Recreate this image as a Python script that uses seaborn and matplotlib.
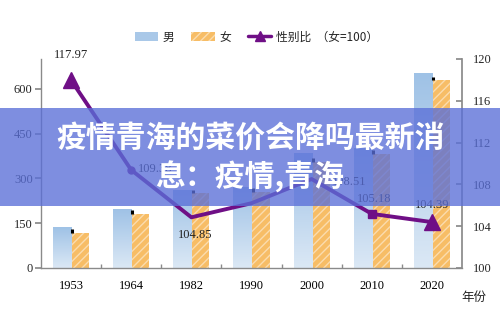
import numpy as np
import pandas as pd
import matplotlib
matplotlib.use("Agg")
import matplotlib.pyplot as plt
import seaborn as sns
from matplotlib.patches import Patch, Rectangle
from matplotlib.lines import Line2D
from matplotlib.colors import LinearSegmentedColormap

years = ['1953', '1964', '1982', '1990', '2000', '2010', '2020']
male = [137, 197, 262, 272, 385, 402, 653]
female = [117, 181, 250, 256, 355, 382, 628]
ratio = [117.97, 109.38, 104.85, 106.20, 108.51, 105.18, 104.39]
ratio_labels = ['117.97', '109.38', '104.85', '', '108.51', '105.18', '104.39']
left_ticks = [0, 150, 300, 450, 600]
right_ticks = [100, 104, 108, 112, 116, 120]
legend_labels = ['男', '女', '性别比  （女=100）']
title_lines = ['疫情青海的菜价会降吗最新消', '息：疫情,青海']

sns.set_theme(style="white")
plt.rcParams['font.family'] = ['Noto Sans CJK SC', 'DejaVu Sans']
plt.rcParams['hatch.linewidth'] = 1.0

serif = ['Liberation Serif', 'DejaVu Serif']
male_c = '#a9c8e8'
female_c = '#f7bd66'
hatch_c = '#fbdcae'
line_c = '#6f0f86'
axis_c = '#8a8a8a'

df = pd.DataFrame({
    'year': years * 2,
    'value': male + female,
    'sex': [legend_labels[0]] * len(years) + [legend_labels[1]] * len(years),
})

fig = plt.figure(figsize=(5.0, 3.17), dpi=100)
ax = fig.add_axes([0.082, 0.1546, 0.842, 0.6594])

sns.barplot(data=df, x='year', y='value', hue='sex', ax=ax,
            palette=[male_c, female_c], width=0.6, gap=0, legend=False,
            saturation=1)

n = len(years)
patches = [p for p in ax.patches]
male_patches = patches[:n]
female_patches = patches[n:2 * n]

# gradient for male bars
grad = np.linspace(0, 1, 100).reshape(-1, 1)
cmap = LinearSegmentedColormap.from_list('m', ['#dbe8f5', '#9fc2e6'])
for p in male_patches:
    p.set_linewidth(0)
    x0, y0 = p.get_x(), p.get_y()
    w, h = p.get_width(), p.get_height()
    im = ax.imshow(grad, extent=[x0, x0 + w, y0, y0 + h], origin='lower',
                   cmap=cmap, aspect='auto', zorder=p.get_zorder() + 0.1)
    im.set_clip_path(p)
for p in female_patches:
    p.set_hatch('////')
    p.set_edgecolor(hatch_c)
    p.set_linewidth(0)

# small black marks at female bar tops
for i, p in enumerate(female_patches):
    ax.vlines(p.get_x() + 0.02, female[i], female[i] + 12, color='black',
              lw=2.2, zorder=5)

ax.set_xlim(-0.5, n - 0.5)
ax.set_ylim(0, 700)
ax.set_yticks(left_ticks)
ax.set_yticklabels([str(t) for t in left_ticks], family=serif, fontsize=9)
ax.set_xticks(range(n))
ax.set_xticklabels(years, family=serif, fontsize=9)
ax.set_xticks(np.arange(0.5, n - 1, 1.0), minor=True)
ax.tick_params(axis='x', which='major', length=0, pad=9, colors='black')
ax.tick_params(axis='x', which='minor', length=3, direction='in', color=axis_c, bottom=True)
ax.tick_params(axis='y', length=4, direction='out', color=axis_c, left=True, pad=2)
ax.set_xlabel('')
ax.set_ylabel('')
for s in ['top', 'right']:
    ax.spines[s].set_visible(False)
for s in ['left', 'bottom']:
    ax.spines[s].set_color(axis_c)
    ax.spines[s].set_linewidth(1)

ax2 = ax.twinx()
ax2.set_ylim(100, 120)
ax2.set_yticks(right_ticks)
ax2.set_yticklabels([str(t) for t in right_ticks], family=serif, fontsize=9)
ax2.tick_params(axis='y', length=4, direction='in', color=axis_c, right=True, pad=8)
for s in ['top', 'left', 'bottom']:
    ax2.spines[s].set_visible(False)
ax2.spines['right'].set_color(axis_c)

xs = np.arange(n)
sns.lineplot(x=xs, y=ratio, ax=ax2, color=line_c, lw=2.8, zorder=6, legend=False)
markers = ['^', 'o', None, None, None, 's', '^']
msizes = [11, 5, 0, 0, 0, 6, 11]
for i in range(n):
    if markers[i]:
        ax2.plot(xs[i], ratio[i], marker=markers[i], ms=msizes[i], color=line_c,
                 zorder=7, ls='none')

offsets = [(0, 18), (17, 1), (3, -13), (0, 0), (27, -2), (2, 11), (0, 12)]
for i in range(n):
    if ratio_labels[i]:
        ax2.annotate(ratio_labels[i], (xs[i], ratio[i]), xytext=offsets[i],
                     textcoords='offset points', ha='center', va='center',
                     family=serif, fontsize=9, color='#222222', zorder=8)

fig.text(0.948, 0.063, '年份', fontsize=9, ha='center', va='center', color='#222222')

handles = [Patch(facecolor=male_c, edgecolor='none'),
           Patch(facecolor=female_c, edgecolor=hatch_c, hatch='////', lw=0),
           Line2D([0], [0], color=line_c, lw=2.5, marker='^', ms=7)]
fig.legend(handles, legend_labels, loc='center', bbox_to_anchor=(0.513, 0.883),
           ncol=3, frameon=False, fontsize=8.5, handlelength=2.0,
           handletextpad=0.4, columnspacing=1.4)

# overlay banner
fig.patches.append(Rectangle((0, 0.350), 1, 0.309, transform=fig.transFigure,
                             facecolor='#5a6fd8', alpha=0.78, edgecolor='none',
                             zorder=20))
fig.text(0.5, 0.565, title_lines[0], fontsize=21.5, fontweight='bold',
         color='white', ha='center', va='center', zorder=21)
fig.text(0.5, 0.442, title_lines[1], fontsize=21.5, fontweight='bold',
         color='white', ha='center', va='center', zorder=21)

fig.savefig('out.png', dpi=100)
